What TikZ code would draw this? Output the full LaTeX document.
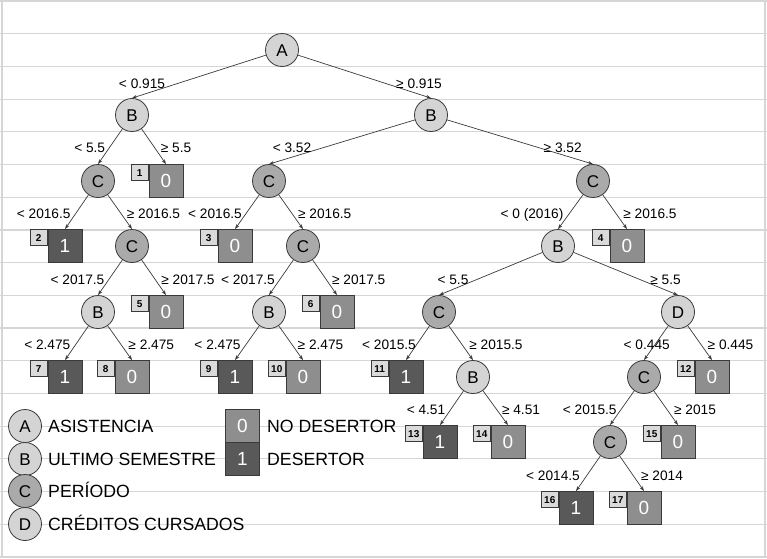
\documentclass[tikz,border=0pt]{standalone}
\usepackage{fontspec}
\setmainfont{Liberation Sans}
\usetikzlibrary{arrows.meta}
\definecolor{lightc}{HTML}{D4D4D4}
\definecolor{darkc}{HTML}{AAAAAA}
\definecolor{zeroc}{HTML}{8E8E8E}
\definecolor{onec}{HTML}{595959}
\definecolor{numc}{HTML}{DADADA}
\definecolor{gridc}{HTML}{D6D6D6}
\definecolor{linec}{HTML}{3A3A3A}
\newcommand\mkleaf[5]{%
  \node[leafv#5] (#1) at (#2,#3) {#5};
  \node[numbox] (#1n) at (#1.north west) {#4};}
\begin{document}
\begin{tikzpicture}[x=1pt,y=-1pt,
  lnode/.style={circle,draw=linec,line width=0.8pt,fill=lightc,minimum size=33pt,inner sep=0pt,font=\fontsize{17}{17}\selectfont,text height=12.2pt,text depth=0pt},
  cnode/.style={lnode,fill=darkc},
  leafbox/.style={draw=linec,line width=0.8pt,minimum width=34pt,minimum height=33pt,inner sep=0pt,text=white,font=\fontsize{19}{19}\selectfont,text height=13.6pt,text depth=0pt},
  leafv0/.style={leafbox,fill=zeroc},
  leafv1/.style={leafbox,fill=onec},
  numbox/.style={draw=linec,line width=0.7pt,fill=numc,minimum width=17pt,minimum height=16pt,inner sep=0pt,font=\fontsize{10}{10}\selectfont\bfseries,text height=7.2pt,text depth=0pt,anchor=north east},
  elabel/.style={inner sep=0pt,font=\fontsize{13.7}{14}\selectfont,text height=9.8pt,text depth=0pt},
  conn/.style={draw=linec,line width=0.7pt,-{Stealth[length=5pt,width=3.5pt]}},
  legtext/.style={anchor=west,inner sep=0pt,font=\fontsize{17.7}{18}\selectfont,text height=12.7pt,text depth=0pt},
  gridline/.style={draw=gridc,line width=1.2pt}
]
\useasboundingbox (0,0) rectangle (767,558);
% background ruled lines
\foreach \k in {0,...,17} \draw[gridline] (0,{1+32.7*\k}) -- (767,{1+32.7*\k});
\draw[gridline] (2,1) -- (2,557);
\draw[gridline] (765,1) -- (765,557);

% internal nodes
\node[lnode] (A) at (282,50) {A};
\node[lnode] (B1) at (132,115) {B};
\node[lnode] (B2) at (431,115) {B};
\node[cnode] (C1) at (98,181) {C};
\node[cnode] (C2) at (269,181) {C};
\node[cnode] (C3) at (593,181) {C};
\node[cnode] (C4) at (132,246) {C};
\node[cnode] (C5) at (303,246) {C};
\node[lnode] (B3) at (558,246) {B};
\node[lnode] (B4) at (98,312) {B};
\node[lnode] (B5) at (269,312) {B};
\node[cnode] (C6) at (439,312) {C};
\node[lnode] (D) at (678,312) {D};
\node[lnode] (B6) at (473,377) {B};
\node[cnode] (C7) at (644,377) {C};
\node[cnode] (C8) at (610,442) {C};

% leaves
\mkleaf{L1}{166}{181}{1}{0}
\mkleaf{L2}{65}{246}{2}{1}
\mkleaf{L3}{235}{246}{3}{0}
\mkleaf{L4}{627}{246}{4}{0}
\mkleaf{L5}{166}{312}{5}{0}
\mkleaf{L6}{337}{312}{6}{0}
\mkleaf{L7}{65}{377}{7}{1}
\mkleaf{L8}{132}{377}{8}{0}
\mkleaf{L9}{235}{377}{9}{1}
\mkleaf{L10}{303}{377}{10}{0}
\mkleaf{L11}{406}{377}{11}{1}
\mkleaf{L12}{712}{377}{12}{0}
\mkleaf{L13}{440}{442}{13}{1}
\mkleaf{L14}{508}{442}{14}{0}
\mkleaf{L15}{678}{442}{15}{0}
\mkleaf{L16}{576}{508}{16}{1}
\mkleaf{L17}{644}{508}{17}{0}

% connectors
\draw[conn] (A) -- (B1.north);
\draw[conn] (A) -- (B2.north);
\draw[conn] (B1) -- (C1.north);
\draw[conn] (B1) -- (L1.north);
\draw[conn] (B2) -- (C2.north);
\draw[conn] (B2) -- (C3.north);
\draw[conn] (C1) -- (L2.north);
\draw[conn] (C1) -- (C4.north);
\draw[conn] (C2) -- (L3.north);
\draw[conn] (C2) -- (C5.north);
\draw[conn] (C3) -- (B3.north);
\draw[conn] (C3) -- (L4.north);
\draw[conn] (C4) -- (B4.north);
\draw[conn] (C4) -- (L5.north);
\draw[conn] (C5) -- (B5.north);
\draw[conn] (C5) -- (L6.north);
\draw[conn] (B3) -- (C6.north);
\draw[conn] (B3) -- (D.north);
\draw[conn] (B4) -- (L7.north);
\draw[conn] (B4) -- (L8.north);
\draw[conn] (B5) -- (L9.north);
\draw[conn] (B5) -- (L10.north);
\draw[conn] (C6) -- (L11.north);
\draw[conn] (C6) -- (B6.north);
\draw[conn] (D) -- (C7.north);
\draw[conn] (D) -- (L12.north);
\draw[conn] (B6) -- (L13.north);
\draw[conn] (B6) -- (L14.north);
\draw[conn] (C7) -- (C8.north);
\draw[conn] (C7) -- (L15.north);
\draw[conn] (C8) -- (L16.north);
\draw[conn] (C8) -- (L17.north);

% edge labels
\node[elabel] (t1) at (142,84) {< 0.915};
\node[elabel] (t2) at (419,84) {≥ 0.915};
\node[elabel] (t3) at (89.7,148) {< 5.5};
\node[elabel] (t4) at (176,148) {≥ 5.5};
\node[elabel] (t5) at (292,148) {< 3.52};
\node[elabel] (t6) at (562.7,148) {≥ 3.52};
\node[elabel] (t7) at (43.7,214) {< 2016.5};
\node[elabel] (t8) at (153.5,214) {≥ 2016.5};
\node[elabel] (t9) at (215,214) {< 2016.5};
\node[elabel] (t10) at (324.7,214) {≥ 2016.5};
\node[elabel] (t11) at (532,214) {< 0 (2016)};
\node[elabel] (t12) at (650,214) {≥ 2016.5};
\node[elabel] (t13) at (77.5,280) {< 2017.5};
\node[elabel] (t14) at (188,280) {≥ 2017.5};
\node[elabel] (t15) at (248,280) {< 2017.5};
\node[elabel] (t16) at (358.7,280) {≥ 2017.5};
\node[elabel] (t17) at (453,280) {< 5.5};
\node[elabel] (t18) at (665.5,280) {≥ 5.5};
\node[elabel] (t19) at (47.3,345) {< 2.475};
\node[elabel] (t20) at (151.3,345) {≥ 2.475};
\node[elabel] (t21) at (217.5,345) {< 2.475};
\node[elabel] (t22) at (320.5,345) {≥ 2.475};
\node[elabel] (t23) at (389,345) {< 2015.5};
\node[elabel] (t24) at (496,345) {≥ 2015.5};
\node[elabel] (t25) at (646.7,345) {< 0.445};
\node[elabel] (t26) at (730.5,345) {≥ 0.445};
\node[elabel] (t27) at (426,410) {< 4.51};
\node[elabel] (t28) at (521,410) {≥ 4.51};
\node[elabel] (t29) at (589.7,410) {< 2015.5};
\node[elabel] (t30) at (695,410) {≥ 2015};
\node[elabel] (t31) at (553,476) {< 2014.5};
\node[elabel] (t32) at (662,476) {≥ 2014};

% legend
\node[lnode] (kA) at (25,426) {A};
\node[lnode] (kB) at (25,459) {B};
\node[cnode] (kC) at (25,491) {C};
\node[lnode] (kD) at (25,524) {D};
\node[legtext] (kAt) at (48,426) {ASISTENCIA};
\node[legtext] (kBt) at (48,459) {ULTIMO SEMESTRE};
\node[legtext] (kCt) at (48,491) {PERÍODO};
\node[legtext] (kDt) at (48,524) {CRÉDITOS CURSADOS};
\node[leafv0] (k0) at (242.5,425.5) {0};
\node[leafv1] (k1) at (242.5,458.5) {1};
\node[legtext] (k0t) at (267,426) {NO DESERTOR};
\node[legtext] (k1t) at (267,459) {DESERTOR};
\end{tikzpicture}
\end{document}
